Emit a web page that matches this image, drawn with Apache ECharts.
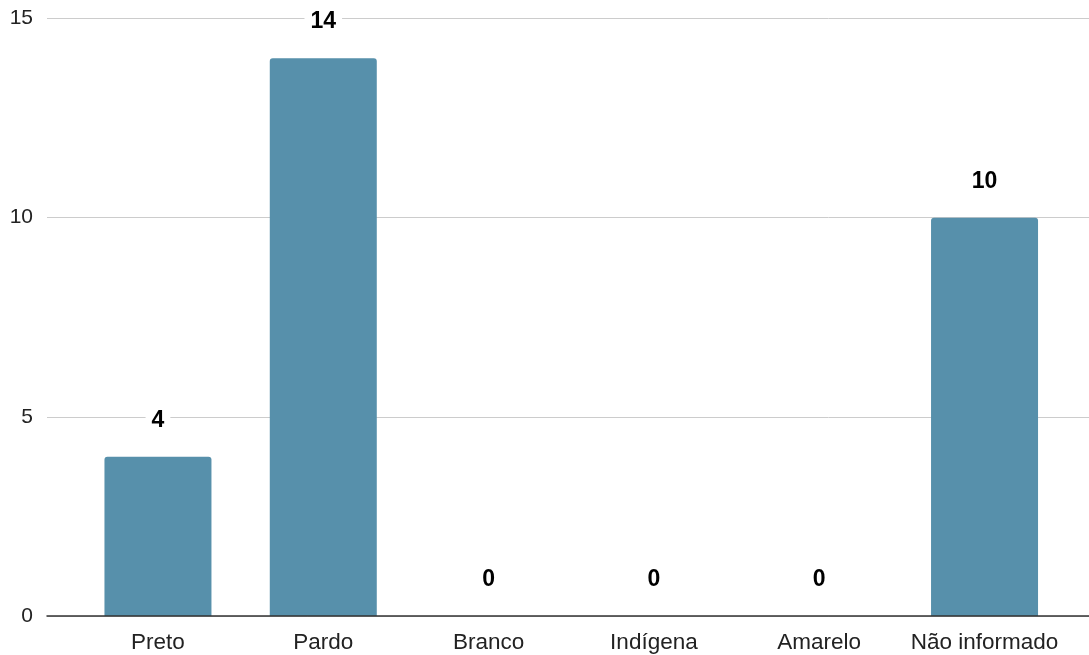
<!DOCTYPE html>
<html>
<head>
<meta charset="utf-8">
<script src="https://cdn.jsdelivr.net/npm/echarts@6/dist/echarts.min.js"></script>
<style>
html,body{margin:0;padding:0;background:#fff;}
#chart{width:1089px;height:655px;}
</style>
</head>
<body>
<div id="chart"></div>
<script>
const categories = ['Preto', 'Pardo', 'Branco', 'Indígena', 'Amarelo', 'Não informado'];
const values = [4, 14, 0, 0, 0, 10];
const yTicks = { min: 0, max: 15, interval: 5 };

const font = '"Liberation Sans", Arial, sans-serif';
const chart = echarts.init(document.getElementById('chart'), null, { renderer: 'canvas' });
chart.setOption({
  animation: false,
  backgroundColor: '#ffffff',
  grid: [
    { left: 47, right: 0, top: 18.5, bottom: 39, containLabel: false },
    { left: 75.3, right: 21.8, top: 18.5, bottom: 39, containLabel: false }
  ],
  xAxis: [
    {
      gridIndex: 0, type: 'value', min: 0, max: 1, z: 10,
      axisLine: { show: true, onZero: true, lineStyle: { color: '#333333', width: 1.5 } },
      axisTick: { show: false }, axisLabel: { show: false }, splitLine: { show: false }
    },
    {
      gridIndex: 1, type: 'category', data: categories,
      axisLine: { show: false }, axisTick: { show: false },
      axisLabel: { color: '#222222', fontSize: 22.5, fontFamily: font, margin: 15, interval: 0 }
    }
  ],
  yAxis: [
    {
      gridIndex: 0, type: 'value', min: yTicks.min, max: yTicks.max, interval: yTicks.interval,
      axisLine: { show: false }, axisTick: { show: false },
      axisLabel: { color: '#222222', fontSize: 21, fontFamily: font, margin: 14 },
      splitLine: { show: true, lineStyle: { color: '#cccccc', width: 1 } }
    },
    {
      gridIndex: 1, type: 'value', min: yTicks.min, max: yTicks.max, interval: yTicks.interval,
      show: false, splitLine: { show: false }
    }
  ],
  series: [{
    type: 'bar',
    xAxisIndex: 1, yAxisIndex: 1,
    data: values,
    barWidth: 107,
    z: 3,
    itemStyle: { color: '#5790ab', borderRadius: [3, 3, 0, 0] },
    label: {
      show: true, position: 'top', distance: 23,
      color: '#000000', fontSize: 23, fontWeight: 'bold', fontFamily: font,
      backgroundColor: '#ffffff', padding: [2, 6]
    }
  }]
});
</script>
</body>
</html>
